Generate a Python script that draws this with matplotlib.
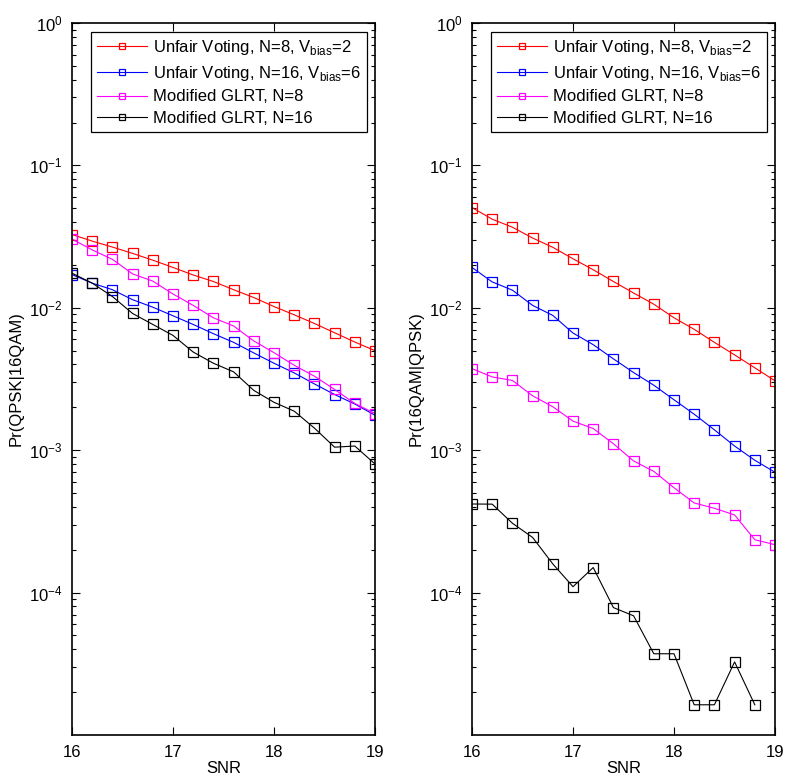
import matplotlib
matplotlib.use("Agg")
import matplotlib.pyplot as plt
from matplotlib.ticker import LogLocator, NullFormatter, FixedLocator

plt.rcParams["font.family"] = ["Liberation Sans", "DejaVu Sans"]
plt.rcParams["mathtext.fontset"] = "custom"
plt.rcParams["mathtext.rm"] = "Liberation Sans"

snr = [16.0, 16.2, 16.4, 16.6, 16.8, 17.0, 17.2, 17.4, 17.6, 17.8,
       18.0, 18.2, 18.4, 18.6, 18.8, 19.0]

# left: Pr(QPSK|16QAM)
qpsk_uv8 = [0.0327, 0.0294, 0.0267, 0.0241, 0.0216, 0.0192, 0.0170, 0.0153,
            0.0134, 0.0118, 0.0102, 0.00893, 0.00776, 0.00668, 0.00575, 0.0050]
qpsk_uv16 = [0.0171, 0.0149, 0.0134, 0.0114, 0.0101, 0.00879, 0.00764, 0.00658,
             0.00572, 0.00482, 0.00408, 0.00349, 0.00292, 0.00246, 0.00211, 0.00176]
qpsk_glrt8 = [0.0304, 0.0255, 0.0219, 0.0173, 0.0154, 0.0125, 0.0104, 0.00851,
              0.00745, 0.00585, 0.00484, 0.00395, 0.00331, 0.00267, 0.00213, 0.00181]
qpsk_glrt16 = [0.0175, 0.0149, 0.0120, 0.00912, 0.00764, 0.00640, 0.00489, 0.00408,
               0.00355, 0.00263, 0.00217, 0.00188, 0.00143, 0.00105, 0.00107, 0.00080]

# right: Pr(16QAM|QPSK)
qam_uv8 = [0.0506, 0.0419, 0.0368, 0.0309, 0.0266, 0.0221, 0.0185, 0.0153,
           0.0127, 0.0106, 0.00851, 0.00706, 0.00572, 0.00467, 0.00379, 0.00307]
qam_uv16 = [0.0192, 0.0152, 0.0133, 0.0104, 0.00884, 0.00665, 0.00551, 0.00438,
            0.00351, 0.00286, 0.00226, 0.00179, 0.00139, 0.00107, 0.00085, 0.00070]
qam_glrt8 = [0.00374, 0.00327, 0.00309, 0.00241, 0.00202, 0.00160, 0.00142, 0.00111,
             0.00084, 0.00071, 0.000545, 0.000426, 0.000391, 0.000351, 0.000235, 0.000217]
qam_glrt16 = [0.000419, 0.000418, 0.000307, 0.000244, 0.000159, 0.000110, 0.000150,
              0.0000785, 0.0000687, 0.0000372, 0.0000372, 0.0000163, 0.0000163,
              0.0000326, 0.0000163]

labels = [r"Unfair Voting, N=8, V$_{\mathrm{bias}}$=2",
          r"Unfair Voting, N=16, V$_{\mathrm{bias}}$=6",
          "Modified GLRT, N=8",
          "Modified GLRT, N=16"]
colors = ["#ff0000", "#0000ff", "#ff00ff", "#000000"]

W, H = 785, 780
fig = plt.figure(figsize=(W / 100, H / 100), dpi=100)

panels = [
    (72, "Pr(QPSK|16QAM)", [qpsk_uv8, qpsk_uv16, qpsk_glrt8, qpsk_glrt16]),
    (472, "Pr(16QAM|QPSK)", [qam_uv8, qam_uv16, qam_glrt8, qam_glrt16]),
]

FS = 12

for left, ylab, series in panels:
    ax = fig.add_axes([left / W, 1 - 735 / H, 303 / W, (735 - 23) / H])
    for ys, c, lab in zip(series, colors, labels):
        ax.semilogy(snr[:len(ys)], ys, color=c, marker="s", markersize=6.5,
                    markerfacecolor="none", markeredgewidth=0.9,
                    linewidth=0.8, label=lab)
    ax.set_xlim(16, 19)
    ax.set_ylim(1e-5, 1)
    ax.xaxis.set_major_locator(FixedLocator([16, 17, 18, 19]))
    ax.yaxis.set_major_locator(FixedLocator([1e-4, 1e-3, 1e-2, 1e-1, 1]))
    ax.yaxis.set_minor_locator(LogLocator(base=10, subs=range(2, 10)))
    ax.yaxis.set_minor_formatter(NullFormatter())
    ax.tick_params(which="both", direction="in", top=True, right=True,
                   labelsize=FS, width=0.8)
    ax.tick_params(which="major", length=6, pad=7)
    ax.tick_params(which="minor", length=3)
    for s in ax.spines.values():
        s.set_linewidth(1.2)
    ax.set_xlabel("SNR", fontsize=FS, labelpad=1)
    ax.set_ylabel(ylab, fontsize=FS, labelpad=4)
    leg = ax.legend(loc="upper right", bbox_to_anchor=(0.975, 0.987),
                    fontsize=FS, fancybox=False, framealpha=1,
                    edgecolor="black", handlelength=3.0, handletextpad=0.4,
                    borderpad=0.35, labelspacing=0.4, borderaxespad=0)
    leg.get_frame().set_linewidth(0.9)
    for h in leg.legend_handles:
        h.set_markersize(5)

fig.savefig("out.png", dpi=100)
